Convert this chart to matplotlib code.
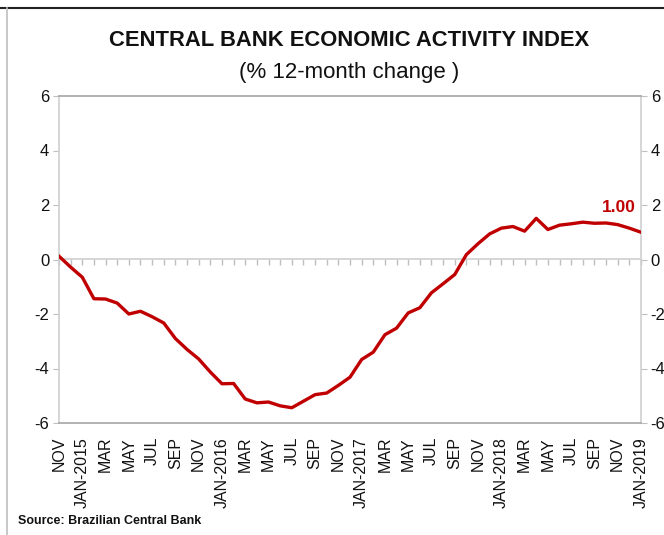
import matplotlib
matplotlib.use("Agg")
import matplotlib.pyplot as plt
from matplotlib import font_manager
from matplotlib.lines import Line2D

months = ["NOV", "DEC", "JAN-2015", "FEB", "MAR", "APR", "MAY", "JUN", "JUL", "AUG", "SEP", "OCT",
          "NOV", "DEC", "JAN-2016", "FEB", "MAR", "APR", "MAY", "JUN", "JUL", "AUG", "SEP", "OCT",
          "NOV", "DEC", "JAN-2017", "FEB", "MAR", "APR", "MAY", "JUN", "JUL", "AUG", "SEP", "OCT",
          "NOV", "DEC", "JAN-2018", "FEB", "MAR", "APR", "MAY", "JUN", "JUL", "AUG", "SEP", "OCT",
          "NOV", "DEC", "JAN-2019"]
values = [0.12, -0.28, -0.65, -1.44, -1.45, -1.6, -2.0, -1.9, -2.1, -2.33, -2.9, -3.3,
          -3.65, -4.13, -4.56, -4.55, -5.12, -5.26, -5.23, -5.37, -5.44, -5.2, -4.96, -4.9,
          -4.62, -4.32, -3.67, -3.4, -2.76, -2.52, -1.96, -1.77, -1.22, -0.89, -0.55, 0.18,
          0.58, 0.94, 1.15, 1.21, 1.04, 1.51, 1.1, 1.26, 1.31, 1.37, 1.33, 1.34,
          1.28, 1.15, 1.0]
yticks = [-6, -4, -2, 0, 2, 4, 6]
last_label = "1.00"

names = {f.name for f in font_manager.fontManager.ttflist}
narrow = "Liberation Sans Narrow" if "Liberation Sans Narrow" in names else "Liberation Sans"
regular = "Liberation Sans"

plt.rcParams["font.family"] = [regular, "DejaVu Sans"]

fig = plt.figure(figsize=(6.64, 5.35), dpi=100)
ax = fig.add_axes([59/664, 1-423/535, (641-59)/664, (423-96)/535])

x = list(range(len(values)))
ax.plot(x, values, color="#C00000", lw=2.4, solid_joinstyle="round", zorder=3)

ax.set_xlim(0, len(values)-1)
ax.set_ylim(-6, 6)
ax.set_yticks(yticks)
ax.set_yticklabels([str(v) for v in yticks])
ax.tick_params(axis="y", which="both", left=True, right=True, labelleft=True, labelright=True,
               direction="out", length=4, color="#BFBFBF", labelsize=12, labelcolor="#111111", pad=3)

major = x[::2]
ax.set_xticks(major)
ax.set_xticklabels([months[i] for i in major], rotation=90, fontsize=11.5, color="#111111")
ax.tick_params(axis="x", length=0, pad=10)

for side in ["top", "bottom"]:
    ax.spines[side].set_color("#A6A6A6")
    ax.spines[side].set_linewidth(1.2)
for side in ["left", "right"]:
    ax.spines[side].set_color("#D0D0D0")
    ax.spines[side].set_linewidth(1.2)

sec = ax.secondary_xaxis(0, transform=ax.transData)
sec.set_xticks(x)
sec.set_xticklabels([])
sec.tick_params(axis="x", direction="out", length=4, color="#BFBFBF", width=1)
for side in sec.spines:
    sec.spines[side].set_color("#D0D0D0")
    sec.spines[side].set_linewidth(1.2)

ax.annotate(last_label, xy=(x[-1], values[-1]), xytext=(-16, 18), textcoords="offset points",
            ha="center", va="center", color="#C00000", fontsize=12.5, fontweight="bold",
            family=[narrow, regular])

fig.text(349/664, 1-40/535, "CENTRAL BANK ECONOMIC ACTIVITY INDEX", ha="center", va="center",
         fontsize=15.8, fontweight="bold", family=[narrow, regular], color="#111111")
fig.text(349/664, 1-72/535, "(% 12-month change )", ha="center", va="center",
         fontsize=16, family=[narrow, regular], color="#111111")
fig.text(18/664, 1-521/535, "Source: Brazilian Central Bank", ha="left", va="center",
         fontsize=9, fontweight="bold", family=[narrow, regular], color="#111111")

fig.add_artist(Line2D([0, 1], [1-8/535, 1-8/535], transform=fig.transFigure, color="#222222", lw=1.5))
fig.add_artist(Line2D([7/664, 7/664], [0, 1-8/535], transform=fig.transFigure, color="#BFBFBF", lw=1.2))

fig.savefig("out.png", dpi=100)
